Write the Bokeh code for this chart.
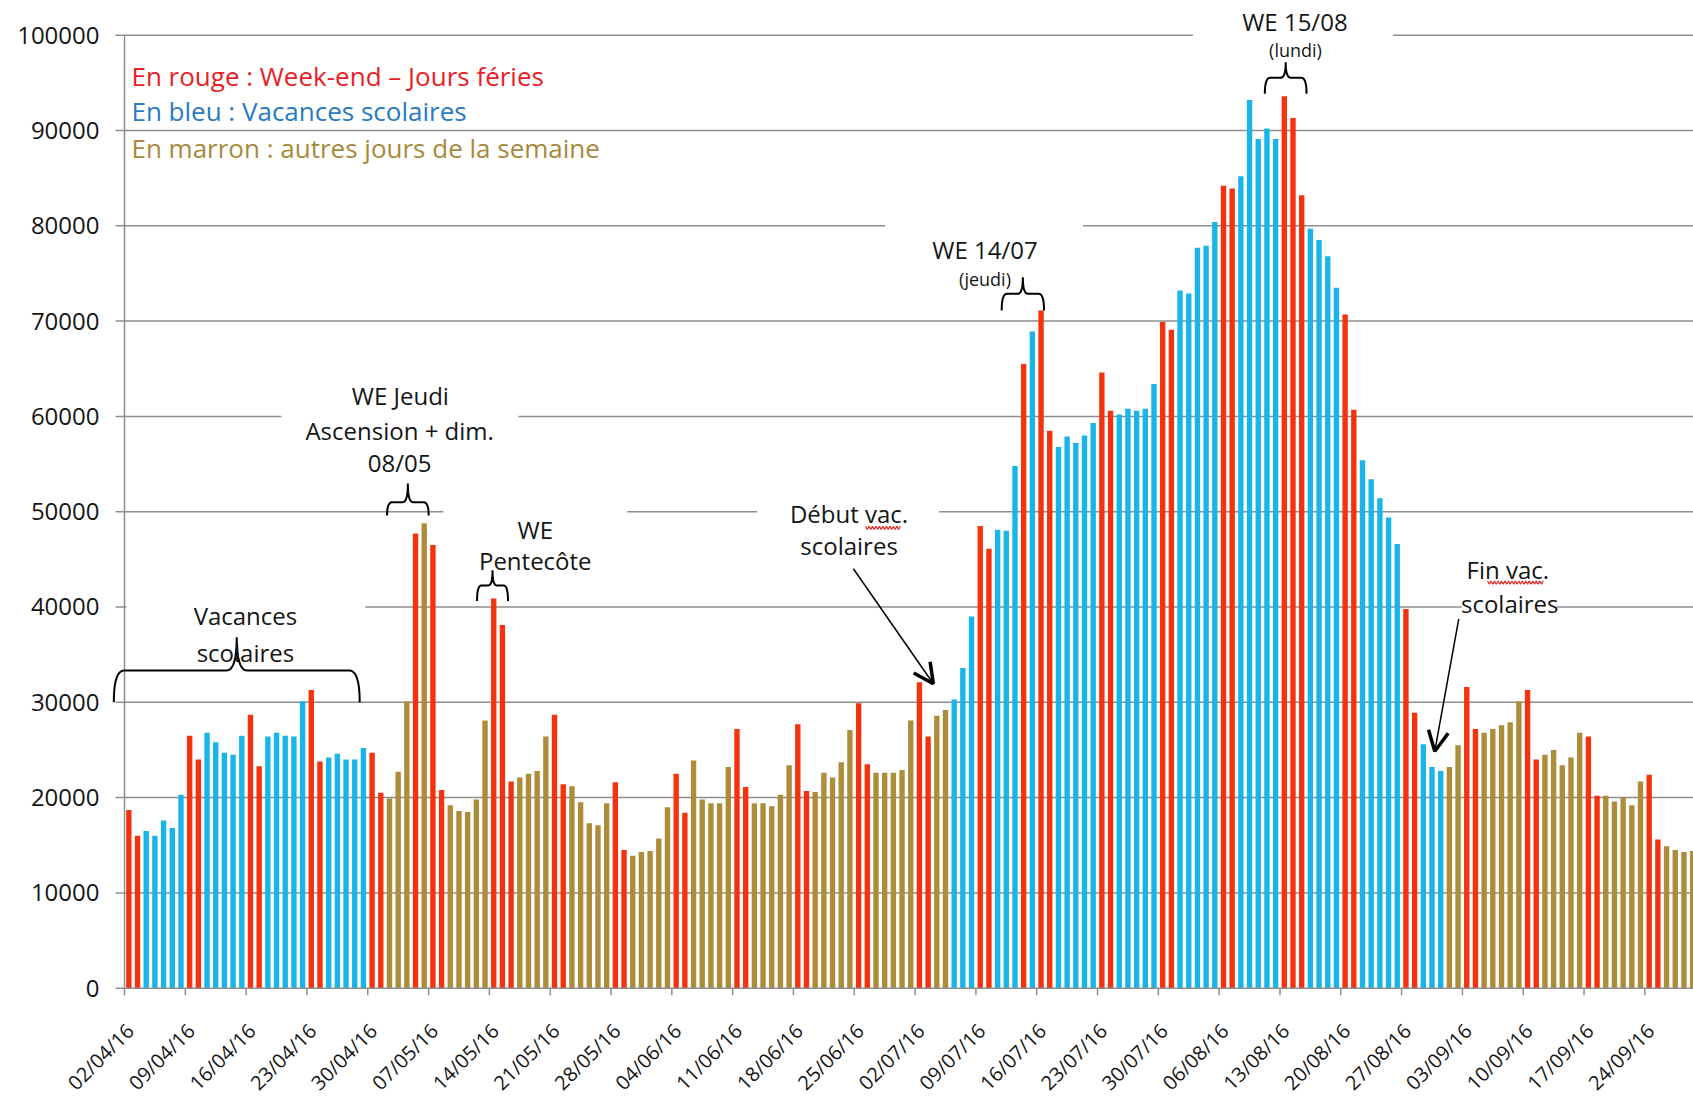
import math
from bokeh.plotting import figure
from bokeh.models import Range1d, Label, Arrow, OpenHead, ColumnDataSource
from bokeh.core.properties import value
from bokeh.embed import file_html
from bokeh.resources import INLINE

# ---------------- data ----------------
x_tick_labels = ["02/04/16", "09/04/16", "16/04/16", "23/04/16", "30/04/16",
                 "07/05/16", "14/05/16", "21/05/16", "28/05/16",
                 "04/06/16", "11/06/16", "18/06/16", "25/06/16",
                 "02/07/16", "09/07/16", "16/07/16", "23/07/16", "30/07/16",
                 "06/08/16", "13/08/16", "20/08/16", "27/08/16",
                 "03/09/16", "10/09/16", "17/09/16", "24/09/16"]
y_tick_values = [0, 10000, 20000, 30000, 40000, 50000, 60000, 70000, 80000, 90000, 100000]
y_tick_labels = ["0", "10000", "20000", "30000", "40000", "50000",
                 "60000", "70000", "80000", "90000", "100000"]

# r = week-end / jour férié, b = vacances scolaires, m = autres jours (marron)
apr_values = [18700, 16000, 16500, 16000, 17600, 16800, 20300, 26500, 24000, 26800,
              25800, 24700, 24500, 26500, 28700, 23300, 26400, 26800, 26500, 26400,
              30100, 31300, 23800, 24200, 24600, 24000, 24000, 25200, 24700]
apr_kinds = "rrbbbbbrrbbbbbrrbbbbbrrbbbbbr"

may_values = [20500, 19900, 22700, 30100, 47700, 48800, 46500, 20800, 19200, 18600,
              18500, 19800, 28100, 40900, 38100, 21700, 22100, 22500, 22800, 26400,
              28700, 21400, 21200, 19500, 17300, 17100, 19400, 21600, 14500, 13900, 14300]
may_kinds = "rmmmrmrrmmmmmrrrmmmmrrmmmmmrrmm"

jun_values = [14400, 15700, 19000, 22500, 18400, 23900, 19800, 19400, 19400, 23200,
              27200, 21100, 19400, 19400, 19100, 20300, 23400, 27700, 20700, 20600,
              22600, 22100, 23700, 27100, 29900, 23500, 22600, 22600, 22600, 22900]
jun_kinds = "mmmrrmmmmmrrmmmmmrrmmmmmrrmmmm"

jul_values = [28100, 32100, 26400, 28600, 29200, 30300, 33600, 39000, 48500, 46100,
              48100, 48000, 54800, 65500, 68900, 71100, 58500, 56800, 57900, 57200,
              58000, 59300, 64600, 60600, 60200, 60800, 60600, 60800, 63400, 69900, 69100]
jul_kinds = "mrrmmbbbrrbbbrbrrbbbbbrrbbbbbrr"

aug_values = [73200, 72900, 77700, 77900, 80400, 84200, 83900, 85200, 93200, 89100,
              90200, 89100, 93600, 91300, 83200, 79700, 78500, 76800, 73500, 70700,
              60700, 55400, 53400, 51400, 49400, 46600, 39800, 28900, 25600, 23200, 22800]
aug_kinds = "bbbbbrrbbbbbrrrbbbbrrbbbbbrrbbb"

sep_values = [23200, 25500, 31600, 27200, 26800, 27200, 27600, 27900, 30100, 31300,
              24000, 24500, 25000, 23400, 24200, 26800, 26400, 20200, 20200, 19600,
              20000, 19200, 21700, 22400, 15600, 14900, 14500, 14300, 14400]
sep_kinds = "mmrrmmmmmrrmmmmmrrmmmmmrrmmmm"

values = apr_values + may_values + jun_values + jul_values + aug_values + sep_values
kinds = apr_kinds + may_kinds + jun_kinds + jul_kinds + aug_kinds + sep_kinds

# ---------------- styles ----------------
BAR_COLORS = {"r": "#F4330E", "b": "#19B5E8", "m": "#AE8D3A"}
GRAY = "#8E8E8E"
TXT = "#151515"
FONT = "Open Sans"
PX_Y = 104.93          # data units per screen pixel (vertical)
PX_X = 0.11511         # days per screen pixel (horizontal)
X_END = 180.6

n = len(values)
src = ColumnDataSource(dict(
    x=[i + 0.5 for i in range(n)],
    top=values,
    color=[BAR_COLORS[k] for k in kinds],
))

p = figure(width=1693, height=1097,
           x_range=Range1d(-124 * PX_X, X_END), y_range=Range1d(-11469, 103640),
           x_axis_location=None, y_axis_location=None,
           output_backend="svg", toolbar_location=None,
           min_border_left=0, min_border_right=0, min_border_top=0, min_border_bottom=0)
p.outline_line_color = None
p.background_fill_color = "white"
p.border_fill_color = "white"
p.grid.visible = False

# horizontal gridlines
grid_vals = y_tick_values[1:]
p.segment(x0=[0] * len(grid_vals), x1=[X_END] * len(grid_vals), y0=grid_vals, y1=grid_vals,
          line_color=GRAY, line_width=1.5)

# white text boxes hiding gridlines (data coordinates)
boxes = dict(
    left=[122.98, 87.55, 18.06, 36.7, 72.82, 0.2, 153.93],
    right=[145.99, 110.33, 45.33, 57.87, 93.76, 27.72, 164.86],
    bottom=[97555, 73000, 53274, 43815, 44878, 33113, 38583],
    top=[103640, 81082, 63977, 51160, 51699, 40458, 45403],
)
p.quad(source=ColumnDataSource(boxes), left="left", right="right", bottom="bottom", top="top",
       fill_color="white", line_color=None)

# bars
p.vbar(x="x", top="top", width=0.62, source=src, fill_color="color", line_color=None)

# y axis: line, ticks, labels
p.segment(x0=[0], y0=[0], x1=[0], y1=[y_tick_values[-1]], line_color=GRAY, line_width=1.5)
p.segment(x0=[-9 * PX_X] * len(y_tick_values), x1=[0] * len(y_tick_values),
          y0=y_tick_values, y1=y_tick_values, line_color=GRAY, line_width=1.5)
p.text(x=[-25 * PX_X] * len(y_tick_values), y=y_tick_values, text=y_tick_labels,
       text_align="right", text_baseline="middle",
       text_font=value(FONT), text_font_size=value("24px"), text_color=TXT)

# x axis: baseline, tick marks, rotated date labels
x_ticks = [7 * k for k in range(len(x_tick_labels))]
p.segment(x0=[0], y0=[0], x1=[X_END], y1=[0], line_color=GRAY, line_width=1.5)
p.segment(x0=x_ticks, y0=[0] * len(x_ticks), x1=x_ticks, y1=[-7 * PX_Y] * len(x_ticks),
          line_color=GRAY, line_width=1.5)
p.text(x=[t + 0.65 for t in x_ticks], y=[-39 * PX_Y] * len(x_ticks), text=x_tick_labels,
       angle=math.pi / 4, text_align="right", text_baseline="middle",
       text_font=value(FONT), text_font_size=value("20px"), text_color=TXT)


# curly braces
def qbez(a, c, b, steps=14):
    pts = []
    for k in range(steps + 1):
        t = k / steps
        pts.append(((1 - t) ** 2 * a[0] + 2 * (1 - t) * t * c[0] + t * t * b[0],
                    (1 - t) ** 2 * a[1] + 2 * (1 - t) * t * c[1] + t * t * b[1]))
    return pts


def brace(x0, x1, y_end, y_bar, y_tip, r):
    xm = (x0 + x1) / 2
    pts = (qbez((x0, y_end), (x0, y_bar), (x0 + r, y_bar)) +
           qbez((xm - r, y_bar), (xm, y_bar), (xm, y_tip)) +
           qbez((xm, y_tip), (xm, y_bar), (xm + r, y_bar)) +
           qbez((x1 - r, y_bar), (x1, y_bar), (x1, y_end)))
    return [q[0] for q in pts], [q[1] for q in pts]


brace_specs = [
    (-1.23, 27.07, 30010, 33336, 36830, 1.2),
    (30.22, 35.01, 49600, 50996, 52958, 0.6),
    (40.58, 44.14, 40618, 42255, 43850, 0.5),
    (100.97, 105.84, 71110, 72862, 74604, 0.6),
    (131.26, 136.06, 93849, 95528, 97165, 0.6),
]
bx, by = [], []
for spec in brace_specs:
    xs, ys = brace(*spec)
    bx.append(xs)
    by.append(ys)
p.multi_line(bx, by, line_color="black", line_width=2)


# red spell-check squiggles under "vac."
def squiggle(xa, xb, yc, amp=170, step=0.2):
    xs, ys = [], []
    k = 0
    xv = xa
    while xv <= xb:
        xs.append(xv)
        ys.append(yc + (amp if k % 2 == 0 else -amp))
        xv += step
        k += 1
    return xs, ys


sq1 = squiggle(85.3, 89.5, 48300)
sq2 = squiggle(156.9, 163.4, 42550)
p.multi_line([sq1[0], sq2[0]], [sq1[1], sq2[1]], line_color="#E52521", line_width=1.2)

# arrows
for xs_, ys_, xe_, ye_ in [(83.9, 44008, 93.1, 31941), (153.58, 38761, 150.82, 24868)]:
    p.add_layout(Arrow(end=OpenHead(size=20, line_width=3.5, line_color="black"),
                       x_start=xs_, y_start=ys_, x_end=xe_, y_end=ye_,
                       line_color="black", line_width=1.5))


# texts
def add_text(x, y, text, size="24px", color=TXT, align="center"):
    p.add_layout(Label(x=x, y=y, text=text, text_font=FONT, text_font_size=size,
                       text_color=color, text_align=align, text_baseline="middle"))


add_text(0.8, 95685, "En rouge : Week-end \u2013 Jours f\u00e9ries", "26px", "#EA1D25", "left")
add_text(0.8, 92046, "En bleu : Vacances scolaires", "26px", "#2A7AC2", "left")
add_text(0.8, 88162, "En marron : autres jours de la semaine", "26px", "#A7893D", "left")

add_text(13.92, 39107, "Vacances")
add_text(13.92, 35256, "scolaires")
add_text(31.75, 62190, "WE Jeudi")
add_text(31.67, 58519, "Ascension + dim.")
add_text(31.67, 55193, "08/05")
add_text(47.28, 48131, "WE")
add_text(47.28, 44878, "Pentec\u00f4te")
add_text(83.4, 49778, "D\u00e9but vac.")
add_text(83.4, 46453, "scolaires")
add_text(99.05, 77491, "WE 14/07")
add_text(99.05, 74469, "(jeudi)", "18px")
add_text(134.72, 101400, "WE 15/08")
add_text(134.79, 98497, "(lundi)", "18px")
add_text(159.22, 43966, "Fin vac.")
add_text(159.45, 40419, "scolaires")

open("out.html", "w").write(file_html(p, INLINE))
